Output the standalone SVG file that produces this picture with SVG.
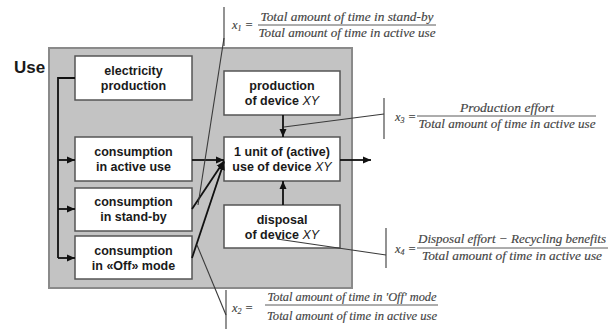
<svg xmlns="http://www.w3.org/2000/svg" width="613" height="329" viewBox="0 0 613 329">
  <style>
    .panel { fill: #c3c3c3; stroke: #8a8a8a; stroke-width: 2; }
    .box { fill: #ffffff; stroke: #555555; stroke-width: 1.5; }
    .lbl { font-family: "Liberation Sans", Arial, sans-serif; font-size: 12.5px; font-weight: bold; fill: #1a1a1a; text-anchor: middle; }
    .lbl .it { font-style: italic; font-weight: normal; }
    .title { font-family: "Liberation Sans", Arial, sans-serif; font-size: 17px; font-weight: bold; fill: #1a1a1a; }
    .flow { fill: none; stroke: #111111; stroke-width: 1.8; }
    .call { fill: none; stroke: #3a3a3a; stroke-width: 1.1; }
    .fx { font-family: "Liberation Serif", "Times New Roman", serif; font-style: italic; font-size: 12.5px; fill: #444444; stroke: #444444; stroke-width: 0.15; }
    .fxc { text-anchor: middle; }
    .bar { stroke: #5a5a5a; stroke-width: 1; }
  </style>
  <defs>
    <marker id="arr" markerUnits="userSpaceOnUse" markerWidth="9" markerHeight="8" refX="8" refY="4" orient="auto">
      <path d="M0,0.5 L8,4 L0,7.5 z" fill="#111111"/>
    </marker>
  </defs>

  <rect width="613" height="329" fill="#ffffff"/>

  <!-- use phase panel -->
  <rect class="panel" x="49" y="48" width="303" height="240"/>
  <text class="title" x="14" y="73">Use</text>

  <g id="electricity-production">
    <rect class="box" x="75" y="56" width="117" height="44"/>
    <text class="lbl" x="133.5" y="75">electricity</text>
    <text class="lbl" x="133.5" y="90">production</text>
  </g>
  <g id="consumption-active">
    <rect class="box" x="75" y="137" width="117" height="44"/>
    <text class="lbl" x="133.5" y="156">consumption</text>
    <text class="lbl" x="133.5" y="171">in active use</text>
  </g>
  <g id="consumption-standby">
    <rect class="box" x="75" y="188" width="117" height="43"/>
    <text class="lbl" x="133.5" y="206">consumption</text>
    <text class="lbl" x="133.5" y="221">in stand-by</text>
  </g>
  <g id="consumption-off">
    <rect class="box" x="75" y="236" width="117" height="43"/>
    <text class="lbl" x="133.5" y="255">consumption</text>
    <text class="lbl" x="133.5" y="270">in «Off» mode</text>
  </g>
  <g id="production-device">
    <rect class="box" x="224" y="71" width="116" height="44"/>
    <text class="lbl" x="282" y="90">production</text>
    <text class="lbl" x="282" y="105">of device <tspan class="it">XY</tspan></text>
  </g>
  <g id="unit-use">
    <rect class="box" x="224" y="137" width="116" height="44"/>
    <text class="lbl" x="282" y="156">1 unit of (active)</text>
    <text class="lbl" x="282" y="171">use of device <tspan class="it">XY</tspan></text>
  </g>
  <g id="disposal-device">
    <rect class="box" x="224" y="205" width="116" height="43"/>
    <text class="lbl" x="282" y="224">disposal</text>
    <text class="lbl" x="282" y="239">of device <tspan class="it">XY</tspan></text>
  </g>

  <g id="connectors">
    <!-- electricity bus -->
    <polyline class="flow" points="75,78 58,78 58,258"/>
    <line class="flow" x1="58" y1="160" x2="75" y2="160" marker-end="url(#arr)"/>
    <line class="flow" x1="58" y1="209" x2="75" y2="209" marker-end="url(#arr)"/>
    <line class="flow" x1="58" y1="258" x2="75" y2="258" marker-end="url(#arr)"/>
    <!-- consumption into the unit of use -->
    <line class="flow" x1="192" y1="160" x2="224" y2="160" marker-end="url(#arr)"/>
    <line class="flow" x1="192" y1="209" x2="224" y2="161" marker-end="url(#arr)"/>
    <line class="flow" x1="192" y1="258" x2="224" y2="162" marker-end="url(#arr)"/>
    <!-- production and disposal -->
    <line class="flow" x1="283" y1="115" x2="283" y2="137" marker-end="url(#arr)"/>
    <line class="flow" x1="283" y1="205" x2="283" y2="181" marker-end="url(#arr)"/>
    <!-- output -->
    <line class="flow" x1="340" y1="160" x2="371" y2="160" marker-end="url(#arr)"/>

    <!-- formula call-outs -->
    <line class="call" x1="224" y1="7" x2="224" y2="46"/>
    <line class="call" x1="224" y1="38" x2="198" y2="205"/>
    <line class="call" x1="384" y1="98" x2="384" y2="139"/>
    <line class="call" x1="384" y1="114" x2="284" y2="127"/>
    <line class="call" x1="386" y1="228" x2="386" y2="268"/>
    <line class="call" x1="386" y1="255" x2="277" y2="239"/>
    <line class="call" x1="226" y1="290" x2="226" y2="329"/>
    <line class="call" x1="226" y1="315" x2="197" y2="245"/>
  </g>

  <!-- x1 -->
  <g id="formula-x1">
    <text class="fx" x="232" y="29">x<tspan font-size="8" dy="2">1</tspan><tspan dy="-2"> =</tspan></text>
    <text class="fx fxc" x="347" y="21" textLength="173" lengthAdjust="spacingAndGlyphs">Total amount of time in stand-by</text>
    <line class="bar" x1="258" y1="25" x2="436" y2="25"/>
    <text class="fx fxc" x="347" y="37" textLength="177" lengthAdjust="spacingAndGlyphs">Total amount of time in active use</text>
  </g>
  <!-- x3 -->
  <g id="formula-x3">
    <text class="fx" x="395" y="121">x<tspan font-size="8" dy="2">3</tspan><tspan dy="-2"> =</tspan></text>
    <text class="fx fxc" x="507" y="112" textLength="94" lengthAdjust="spacingAndGlyphs">Production effort</text>
    <line class="bar" x1="417" y1="116" x2="596" y2="116"/>
    <text class="fx fxc" x="507" y="128" textLength="177" lengthAdjust="spacingAndGlyphs">Total amount of time in active use</text>
  </g>
  <!-- x4 -->
  <g id="formula-x4">
    <text class="fx" x="395" y="253">x<tspan font-size="8" dy="2">4</tspan><tspan dy="-2"> =</tspan></text>
    <text class="fx fxc" x="512" y="243" textLength="188" lengthAdjust="spacingAndGlyphs">Disposal effort − Recycling benefits</text>
    <line class="bar" x1="417" y1="248" x2="608" y2="248"/>
    <text class="fx fxc" x="512" y="260" textLength="180" lengthAdjust="spacingAndGlyphs">Total amount of time in active use</text>
  </g>
  <!-- x2 -->
  <g id="formula-x2">
    <text class="fx" x="232" y="312">x<tspan font-size="8" dy="2">2</tspan><tspan dy="-2"> =</tspan></text>
    <text class="fx fxc" x="352" y="301" textLength="169" lengthAdjust="spacingAndGlyphs">Total amount of time in 'Off' mode</text>
    <line class="bar" x1="265" y1="305" x2="438" y2="305"/>
    <text class="fx fxc" x="352" y="320" textLength="170" lengthAdjust="spacingAndGlyphs">Total amount of time in active use</text>
  </g>
</svg>
